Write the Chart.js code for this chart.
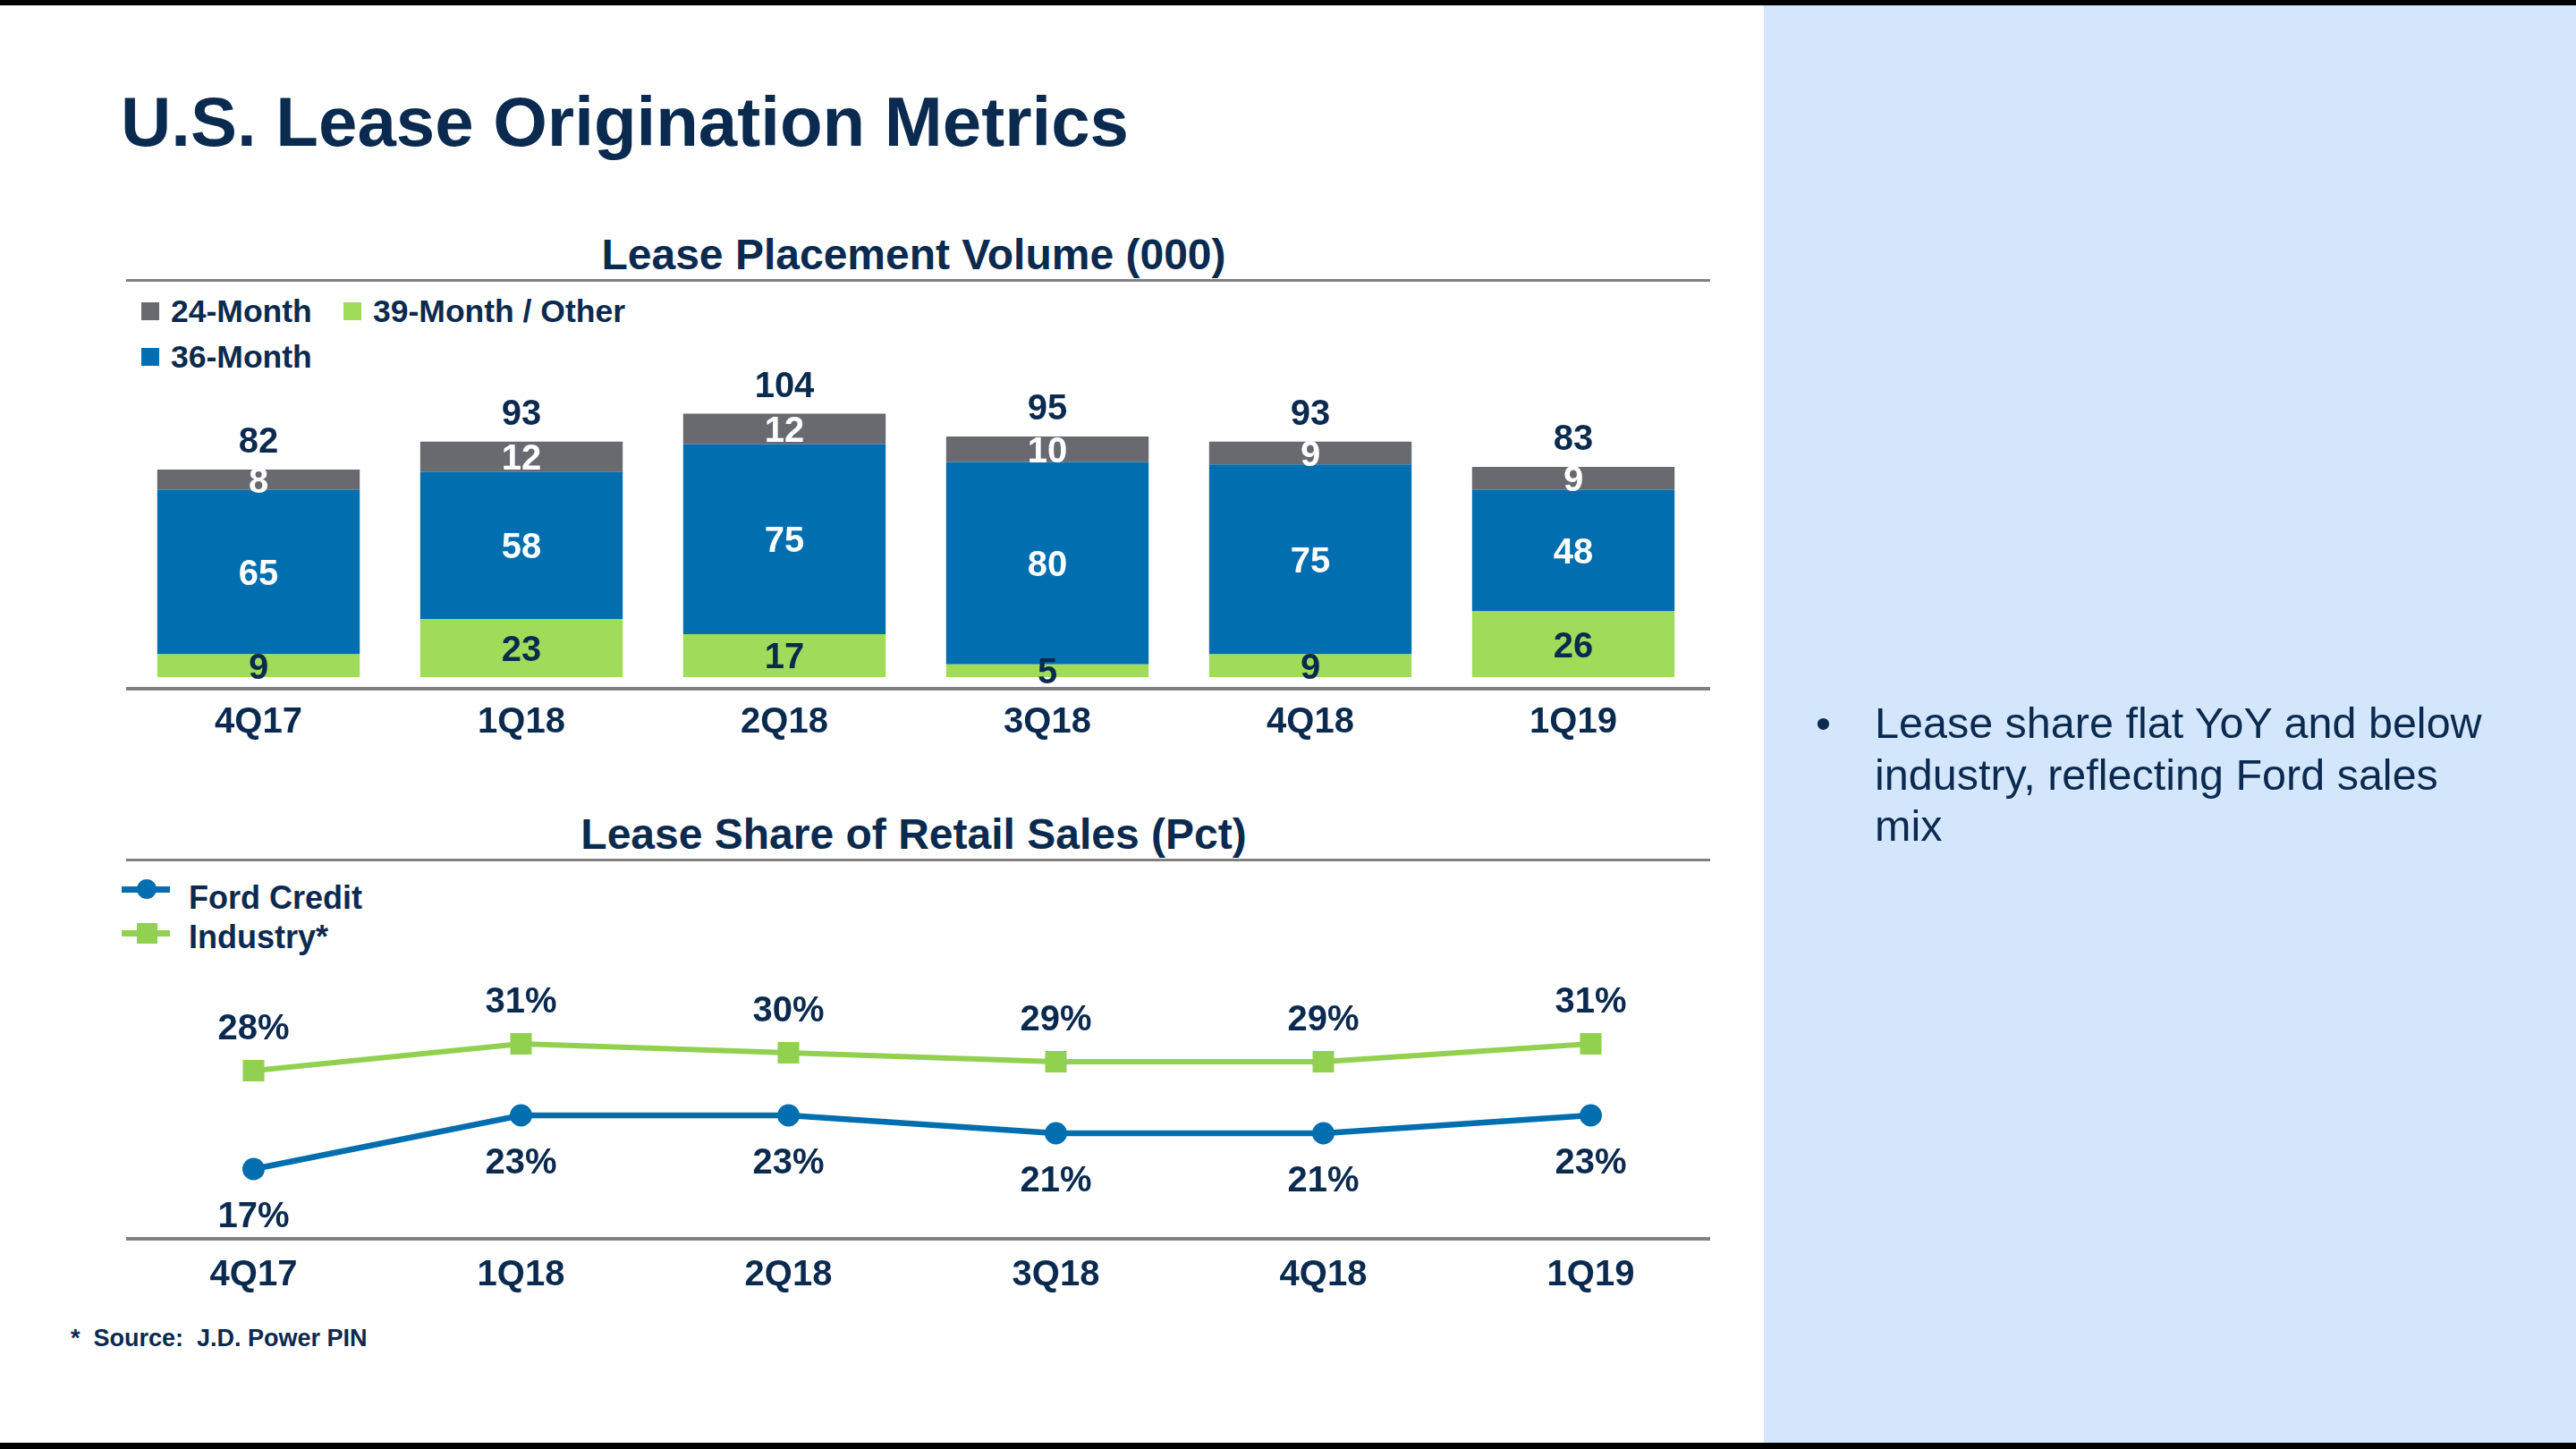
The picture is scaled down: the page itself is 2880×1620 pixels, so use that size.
<!DOCTYPE html>
<html>
<head>
<meta charset="utf-8">
<script src="https://cdn.jsdelivr.net/npm/chart.js@4/dist/chart.umd.min.js"></script>
<style>
html,body{margin:0;padding:0;width:2880px;height:1620px;overflow:hidden;background:#fff;}
body{font-family:"Liberation Sans",Arial,sans-serif;color:#0B2A4F;}
#page{position:relative;width:2880px;height:1620px;}
.abs{position:absolute;white-space:pre;}
.b{font-weight:bold;}
canvas{position:absolute;}
</style>
</head>
<body>
<div id="page">
  <div class="abs" style="left:0;top:0;width:2880px;height:6px;background:#000"></div>
  <div class="abs" style="left:1972px;top:6px;width:908px;height:1607px;background:#D4E6FC"></div>
  <div class="abs" style="left:0;top:1613px;width:2880px;height:7px;background:#000"></div>

  <div class="abs b" style="left:135px;top:97px;font-size:78px;line-height:78px;">U.S. Lease Origination Metrics</div>

  <!-- Bar chart header -->
  <div class="abs b" style="left:136px;top:261px;width:1771px;text-align:center;font-size:48px;line-height:48px;">Lease Placement Volume (000)</div>
  <div class="abs" style="left:141px;top:312px;width:1771px;height:3px;background:#808080"></div>
  <div class="abs" style="left:158px;top:338px;width:20px;height:20px;background:#686A70"></div>
  <div class="abs b" style="left:191px;top:331px;font-size:35.5px;line-height:35.5px;">24-Month</div>
  <div class="abs" style="left:384px;top:338px;width:20px;height:20px;background:#A0DC5A"></div>
  <div class="abs b" style="left:417px;top:331px;font-size:35.5px;line-height:35.5px;">39-Month / Other</div>
  <div class="abs" style="left:158px;top:389px;width:20px;height:20px;background:#006EAF"></div>
  <div class="abs b" style="left:191px;top:382px;font-size:35.5px;line-height:35.5px;">36-Month</div>
  <div class="abs" style="left:141px;top:768px;width:1771px;height:4px;background:#808080"></div>

  <!-- Line chart header -->
  <div class="abs b" style="left:136px;top:909px;width:1771px;text-align:center;font-size:48px;line-height:48px;">Lease Share of Retail Sales (Pct)</div>
  <div class="abs" style="left:141px;top:960px;width:1771px;height:3px;background:#808080"></div>
  <div class="abs" style="left:136px;top:991px;width:54px;height:7px;background:#006EAF"></div>
  <div class="abs" style="left:153px;top:983px;width:22px;height:22px;border-radius:50%;background:#006EAF"></div>
  <div class="abs b" style="left:211px;top:986px;font-size:36px;line-height:36px;">Ford Credit</div>
  <div class="abs" style="left:136px;top:1040px;width:54px;height:7px;background:#92D050"></div>
  <div class="abs" style="left:153px;top:1032px;width:23px;height:23px;background:#92D050"></div>
  <div class="abs b" style="left:211px;top:1030px;font-size:36px;line-height:36px;">Industry*</div>
  <div class="abs" style="left:141px;top:1383px;width:1771px;height:4px;background:#808080"></div>

  <div class="abs b" style="left:79px;top:1483px;font-size:27px;line-height:27px;">*  Source:  J.D. Power PIN</div>

  <!-- Right panel text -->
  <div class="abs" style="left:2030px;top:780px;font-size:48.5px;line-height:57.5px;">•</div>
  <div class="abs" style="left:2096px;top:780px;font-size:48.5px;line-height:57.5px;">Lease share flat YoY and below
industry, reflecting Ford sales
mix</div>

  <canvas id="bar" width="1764" height="539" style="left:142px;top:320px;width:1764px;height:539px;"></canvas>
  <canvas id="line" width="1794" height="475" style="left:134px;top:1000px;width:1794px;height:475px;"></canvas>
</div>

<script>
// ---- Data ----
const categories = ['4Q17', '1Q18', '2Q18', '3Q18', '4Q18', '1Q19'];
const month39Other = [9, 23, 17, 5, 9, 26];
const month36 = [65, 58, 75, 80, 75, 48];
const month24 = [8, 12, 12, 10, 9, 9];
const totals = [82, 93, 104, 95, 93, 83];
const fordCredit = [17, 23, 23, 21, 21, 23];
const industry = [28, 31, 30, 29, 29, 31];

// ---- Styles ----
const NAVY = '#0B2A4F';
const FONT = '"Liberation Sans", Arial, sans-serif';
const LABEL_SIZE = 40;

const barLabels = {
  id: 'barLabels',
  afterDatasetsDraw(chart) {
    const ctx = chart.ctx;
    const yScale = chart.scales.y;
    ctx.save();
    ctx.font = 'bold ' + LABEL_SIZE + 'px ' + FONT;
    ctx.textAlign = 'center';
    ctx.textBaseline = 'alphabetic';
    const off = 0.358 * LABEL_SIZE;
    chart.data.datasets.forEach((ds, di) => {
      const meta = chart.getDatasetMeta(di);
      meta.data.forEach((bar, i) => {
        const cy = (bar.y + bar.base) / 2;
        ctx.fillStyle = ds.labelColor;
        ctx.fillText(String(ds.data[i]), bar.x, cy + off);
      });
    });
    const meta0 = chart.getDatasetMeta(0);
    ctx.fillStyle = NAVY;
    totals.forEach((t, i) => {
      const px = meta0.data[i].x;
      const py = yScale.getPixelForValue(t) - 33;
      ctx.fillText(String(t), px, py + off);
    });
    ctx.restore();
  }
};

new Chart(document.getElementById('bar'), {
  type: 'bar',
  data: {
    labels: categories,
    datasets: [
      { label: '39-Month / Other', data: month39Other, backgroundColor: '#A0DC5A', labelColor: NAVY },
      { label: '36-Month', data: month36, backgroundColor: '#006EAF', labelColor: '#FFFFFF' },
      { label: '24-Month', data: month24, backgroundColor: '#686A70', labelColor: '#FFFFFF' }
    ]
  },
  options: {
    responsive: false,
    devicePixelRatio: 1,
    animation: false,
    datasets: { bar: { barPercentage: 0.77, categoryPercentage: 1.0, borderWidth: 0 } },
    layout: { autoPadding: false, padding: { top: 69, bottom: 0, left: 0, right: 0 } },
    plugins: { legend: { display: false }, tooltip: { enabled: false } },
    scales: {
      x: {
        stacked: true,
        offset: true,
        grid: { display: false, drawTicks: false },
        border: { display: false },
        ticks: { color: NAVY, padding: 27, font: { family: FONT, size: 40, weight: 'bold' } }
      },
      y: { stacked: true, display: false, min: 0, max: 130 }
    }
  },
  plugins: [barLabels]
});

const lineLabels = {
  id: 'lineLabels',
  afterDatasetsDraw(chart) {
    const ctx = chart.ctx;
    ctx.save();
    ctx.font = 'bold ' + LABEL_SIZE + 'px ' + FONT;
    ctx.textAlign = 'center';
    ctx.textBaseline = 'alphabetic';
    ctx.fillStyle = NAVY;
    const off = 0.358 * LABEL_SIZE;
    chart.data.datasets.forEach((ds, di) => {
      const meta = chart.getDatasetMeta(di);
      meta.data.forEach((pt, i) => {
        const cy = pt.y + ds.labelShift;
        ctx.fillText(ds.data[i] + '%', pt.x, cy + off);
      });
    });
    ctx.restore();
  }
};

new Chart(document.getElementById('line'), {
  type: 'line',
  data: {
    labels: categories,
    datasets: [
      { label: 'Industry*', data: industry, borderColor: '#92D050', backgroundColor: '#92D050',
        borderWidth: 6, pointStyle: 'rect', pointRadius: 17, pointBorderWidth: 0,
        pointBackgroundColor: '#92D050', tension: 0, labelShift: -49, clip: false },
      { label: 'Ford Credit', data: fordCredit, borderColor: '#006EAF', backgroundColor: '#006EAF',
        borderWidth: 6.5, pointStyle: 'circle', pointRadius: 12.5, pointBorderWidth: 0,
        pointBackgroundColor: '#006EAF', tension: 0, labelShift: 51, clip: false }
    ]
  },
  options: {
    responsive: false,
    devicePixelRatio: 1,
    animation: false,
    layout: { autoPadding: false, padding: { top: 77, bottom: 0, left: 0, right: 0 } },
    plugins: { legend: { display: false }, tooltip: { enabled: false } },
    scales: {
      x: {
        offset: true,
        grid: { display: false, drawTicks: false },
        border: { display: false },
        ticks: { color: NAVY, padding: 25, font: { family: FONT, size: 40, weight: 'bold' } }
      },
      y: { display: false, min: 10, max: 40 }
    }
  },
  plugins: [lineLabels]
});
</script>
</body>
</html>
